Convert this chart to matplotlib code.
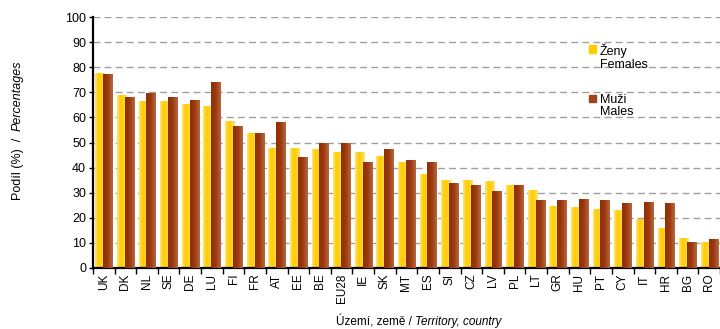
import matplotlib
matplotlib.use("Agg")
import matplotlib.pyplot as plt
import numpy as np
from matplotlib.colors import LinearSegmentedColormap
from matplotlib.patches import Rectangle

plt.rcParams['font.family'] = ['Liberation Sans', 'DejaVu Sans']

countries = ["UK", "DK", "NL", "SE", "DE", "LU", "FI", "FR", "AT", "EE", "BE", "EU28",
             "IE", "SK", "MT", "ES", "SI", "CZ", "LV", "PL", "LT", "GR", "HU", "PT",
             "CY", "IT", "HR", "BG", "RO"]
females = [77.8, 69.0, 66.5, 66.5, 65.4, 64.6, 58.6, 53.9, 47.9, 47.9, 47.5, 46.3,
           46.3, 44.7, 42.3, 37.5, 35.1, 35.1, 34.7, 33.2, 31.2, 24.8, 24.4, 23.6,
           23.2, 19.6, 16.1, 12.1, 10.5]
males = [77.4, 68.2, 69.6, 68.2, 66.9, 74.2, 56.6, 53.9, 58.2, 44.3, 49.9, 49.9,
         42.3, 47.5, 43.1, 42.3, 34.0, 33.2, 30.8, 33.2, 27.2, 27.2, 27.6, 27.2,
         26.0, 26.4, 26.0, 10.5, 11.7]

fig = plt.figure(figsize=(7.2, 3.29), dpi=100)
ax = fig.add_axes([93/720, 1-268/329, 1-93/720, (268-17)/329])

x = np.arange(len(countries))
w = 0.42
cmap_f = LinearSegmentedColormap.from_list("f", ["#FFE680", "#FFCC00", "#FFD21F", "#FFE37A"])
cmap_m = LinearSegmentedColormap.from_list("m", ["#8E2C04", "#9C3A10", "#B86A40"])

bars_f = ax.bar(x - 0.18, females, width=w, color="#FFCC00", zorder=2, linewidth=0)
bars_m = ax.bar(x + 0.18, males, width=w, color="#A0441A", zorder=3, linewidth=0)

grad = np.linspace(0, 1, 64).reshape(1, -1)
for bars, cmap, z in ((bars_f, cmap_f, 2.1), (bars_m, cmap_m, 3.1)):
    for b in bars:
        x0, wb, hb = b.get_x(), b.get_width(), b.get_height()
        im = ax.imshow(grad, cmap=cmap, aspect='auto', extent=(x0, x0 + wb, 0, hb),
                       zorder=z, interpolation='bicubic')
        im.set_clip_path(b)

ax.set_xlim(-0.5, len(countries) - 0.5)
ax.set_ylim(0, 100)
ax.set_yticks(np.arange(0, 101, 10))
ax.set_xticks(x)
ax.set_xticklabels(countries, rotation=90, fontsize=8.5)
ax.set_xticks(np.arange(-0.5, len(countries), 1), minor=True)
ax.tick_params(axis='x', which='major', length=0, pad=4)
ax.tick_params(axis='x', which='minor', length=4, width=1, direction='out')
ax.tick_params(axis='y', length=3, width=1, direction='out', labelsize=9, pad=2)

ax.yaxis.grid(True, linestyle=(0, (5, 3)), color="#A0A0A0", linewidth=1)
ax.set_axisbelow(True)
for s in ("top", "right"):
    ax.spines[s].set_visible(False)
ax.spines["left"].set_linewidth(1.6)
ax.spines["bottom"].set_linewidth(1.6)

# y label composed of regular and italic parts
renderer = fig.canvas.get_renderer()
ylab1 = fig.text(18/720, 1-200/329, "Podíl (%)  /  ", rotation=90, fontsize=9,
                 ha='center', va='bottom')
bb = ylab1.get_window_extent(renderer)
fig.text(18/720, bb.y1/fig.bbox.height, "Percentages", rotation=90, fontsize=9,
         ha='center', va='bottom', style='italic')

fig.text(415/720, 1-322/329, "Území, země / ", fontsize=8.5, ha='right', va='center')
fig.text(415/720, 1-322/329, "Territory, country", fontsize=8.5, ha='left',
         va='center', style='italic')

# legend
for (yy, col, lab) in ((49, "#FFCC00", "Ženy\nFemales"), (99, "#A0441A", "Muži\nMales")):
    fig.add_artist(Rectangle((589/720, 1-(yy+3.5)/329), 7/720, 7/329, color=col,
                             transform=fig.transFigure))
    fig.text(600/720, 1-(yy-5)/329, lab, fontsize=9, ha='left', va='top',
             linespacing=1.05)

fig.savefig("out.png", dpi=100)
